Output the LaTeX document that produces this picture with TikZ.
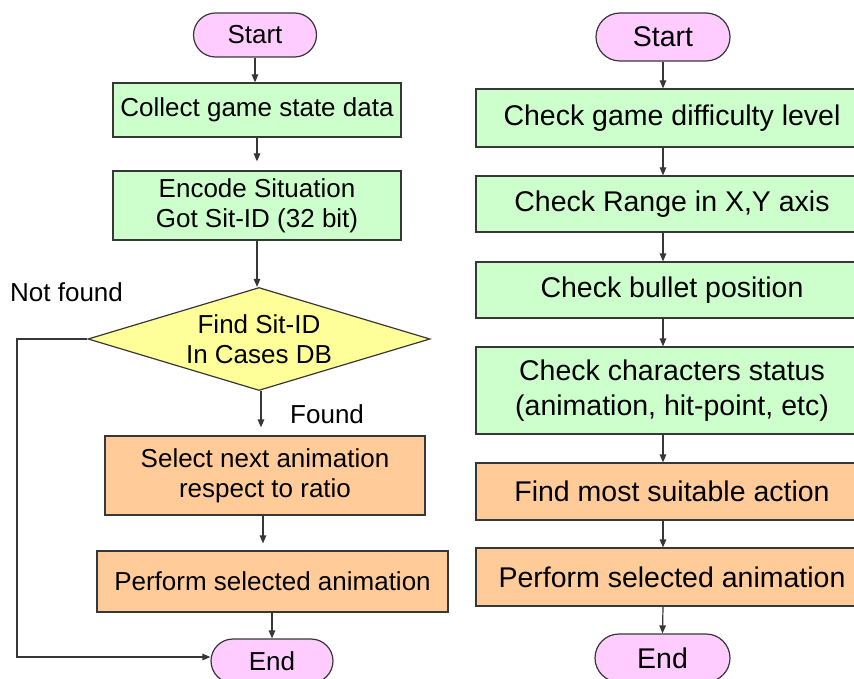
\documentclass[tikz,border=0pt]{standalone}
\usepackage{fontspec}
\setmainfont{Liberation Sans}
\usetikzlibrary{shapes.geometric,arrows.meta}
\definecolor{lineclr}{RGB}{55,55,55}
\definecolor{procgreen}{RGB}{204,255,204}
\definecolor{procorange}{RGB}{255,204,153}
\definecolor{termpink}{RGB}{255,204,255}
\definecolor{decyellow}{RGB}{255,255,153}
\tikzset{
  base/.style={draw=lineclr, line width=1.2pt, inner sep=0pt, align=center, text=black},
  lfont/.style={font=\fontsize{26}{30}\selectfont},
  rfont/.style={font=\fontsize{28.5}{35}\selectfont},
  termbox/.style={base, fill=termpink, rounded corners=22pt},
  greenbox/.style={base, fill=procgreen, rectangle},
  orangebox/.style={base, fill=procorange, rectangle},
  decbox/.style={base, fill=decyellow, diamond},
  flow/.style={draw=lineclr, line width=1.2pt, -{Triangle[length=8pt,width=6.5pt]}},
}
\begin{document}
\begin{tikzpicture}[x=1pt,y=-1pt]
\useasboundingbox (0,0) rectangle (854,679);
% left column
\node[termbox, lfont, minimum width=123pt, minimum height=44pt] (lstart) at (255,35) {Start};
\node[greenbox, lfont, minimum width=288pt, minimum height=54pt] (lcollect) at (257,110) {Collect game state data};
\node[greenbox, lfont, minimum width=288pt, minimum height=69pt] (lencode) at (257,205.5) {Encode Situation\\Got Sit-ID (32 bit)};
\node[decbox, minimum width=342pt, minimum height=103pt] (ldec) at (259,339) {};
\node[lfont, align=center, inner sep=0pt] (ldectext) at (ldec.center) {Find Sit-ID\\In Cases DB};
\node[orangebox, lfont, minimum width=320pt, minimum height=79pt] (lselect) at (265,475.5) {Select next animation\\respect to ratio};
\node[orangebox, lfont, minimum width=351pt, minimum height=61pt] (lperform) at (272.5,581.5) {Perform selected animation};
\node[termbox, lfont, minimum width=122pt, minimum height=44pt] (lend) at (272,661) {End};
\node[lfont, anchor=west, inner sep=0pt] (lnf) at (10,292) {Not found};
\node[lfont, anchor=west, inner sep=0pt] (lfound) at (290,414) {Found};
\coordinate (lc1) at (17,339);
\coordinate (lc2) at (17,657);

\draw[flow] (lstart.south) -- (lstart.south |- lcollect.north);
\draw[flow, shorten >=9pt] (lcollect.south) -- (lcollect.south |- lencode.north);
\draw[flow] (lencode.south) -- (lencode.south |- ldec.north);
\draw[flow, shorten >=8pt] ([xshift=2pt]ldec.south) -- ([xshift=2pt]ldec.south |- lselect.north);
\draw[flow, shorten >=7pt] ([xshift=-2pt]lselect.south) -- ([xshift=-2pt]lselect.south |- lperform.north);
\draw[flow] ([xshift=-0.5pt]lperform.south) -- ([xshift=-0.5pt]lperform.south |- lend.north);
\draw[flow] (ldec.west) -- (lc1) -- (lc2) -- (lc2 -| lend.west);

% right column
\node[termbox, rfont, minimum width=134pt, minimum height=48pt, rounded corners=24pt] (rstart) at (663,37) {Start};
\node[greenbox, rfont, minimum width=392pt, minimum height=58pt] (r1) at (672,118) {Check game difficulty level};
\node[greenbox, rfont, minimum width=392pt, minimum height=56pt] (r2) at (672,204) {Check Range in X,Y axis};
\node[greenbox, rfont, minimum width=392pt, minimum height=56pt] (r3) at (672,290) {Check bullet position};
\node[greenbox, rfont, minimum width=392pt, minimum height=87pt] (r4) at (672,390.5) {Check characters status\\(animation, hit-point, etc)};
\node[orangebox, rfont, minimum width=392pt, minimum height=57pt] (r5) at (672,491.5) {Find most suitable action};
\node[orangebox, rfont, minimum width=392pt, minimum height=58pt] (r6) at (672,577) {Perform selected animation};
\node[termbox, rfont, minimum width=135pt, minimum height=48pt, rounded corners=24pt] (rend) at (662.5,658) {End};

\draw[flow] (rstart.south) -- (rstart.south |- r1.north);
\draw[flow] (rstart.south |- r1.south) -- (rstart.south |- r2.north);
\draw[flow] (rstart.south |- r2.south) -- (rstart.south |- r3.north);
\draw[flow] (rstart.south |- r3.south) -- (rstart.south |- r4.north);
\draw[flow] (rstart.south |- r4.south) -- (rstart.south |- r5.north);
\draw[flow] (rstart.south |- r5.south) -- (rstart.south |- r6.north);
\draw[flow] (rstart.south |- r6.south) -- (rend.north);
\end{tikzpicture}
\end{document}
